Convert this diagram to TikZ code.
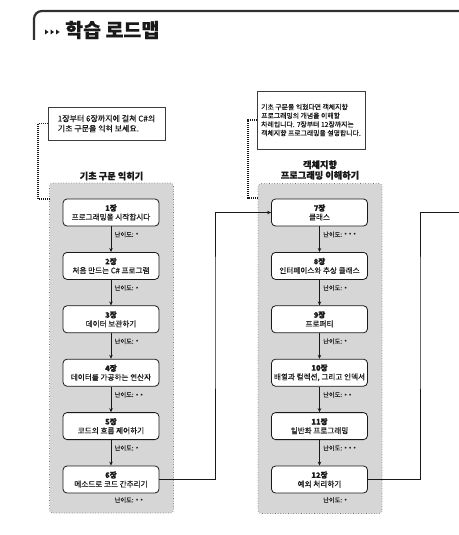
\documentclass[tikz,border=0pt]{standalone}
\usepackage{fontspec}
\setmainfont{Noto Sans CJK KR}[FakeBold=0.4]
\newfontfamily\symf{DejaVu Sans}
\usetikzlibrary{arrows.meta}
\definecolor{grpfill}{RGB}{214,214,214}
\definecolor{grpline}{RGB}{110,110,110}
\definecolor{inkc}{RGB}{25,25,25}
\newcommand{\dts}[1]{{\symf\foreach \i in {1,...,#1}{•\hspace{0.8pt}}}}
\tikzset{
  chap/.style={draw=inkc, line width=0.8pt, fill=white, rounded corners=4pt,
    minimum width=96pt, minimum height=27pt, inner sep=0pt, align=center,
    font=\fontsize{7.6}{9}\selectfont, text=inkc},
  grp/.style={draw=grpline, line width=0.6pt, dotted, fill=grpfill, rounded corners=3pt,
    minimum width=124pt, minimum height=330pt, inner sep=0pt},
  notebox/.style={draw=inkc!85, line width=0.6pt, fill=white, inner sep=0pt, align=left, text=inkc},
  diff/.style={anchor=west, font=\fontsize{6.2}{7}\selectfont, text=inkc, inner sep=0pt},
  flow/.style={draw=inkc, line width=0.8pt, -{Stealth[length=4pt,width=3.5pt]}},
  link/.style={draw=inkc, line width=0.8pt},
  dotlink/.style={draw=inkc, line width=1.1pt, dash pattern=on 1pt off 1pt},
  gtitle/.style={font=\bfseries\fontsize{9.2}{10.5}\selectfont, text=inkc, align=center, inner sep=0pt}
}
\begin{document}
\begin{tikzpicture}[x=1pt,y=-1pt]
\useasboundingbox (0,0) rectangle (458,535);
% header
\draw[line width=2.2pt, draw=inkc!90, rounded corners=8pt] (34,40) -- (34,11) -- (460,11);
\fill[inkc] (45,29.5) -- (48.5,32) -- (45,34.5) -- cycle;
\fill[inkc] (50.5,29.5) -- (54,32) -- (50.5,34.5) -- cycle;
\fill[inkc] (56,29.5) -- (59.5,32) -- (56,34.5) -- cycle;
\node[anchor=west, inner sep=0pt, text=inkc] (title) at (65,30) {\bfseries\fontsize{19.5}{21}\selectfont 학습 로드맵};

% groups
\node[grp] (gL) at (111.5,348) {};
\node[grp] (gR) at (320,348.5) {};
\node[gtitle] (tL) at (111.5,176) {기초 구문 익히기};
\node[gtitle] (tR) at (320,170) {객체지향\\프로그래밍 이해하기};

% notes
\node[notebox, minimum width=117pt, minimum height=33pt, font=\fontsize{8}{10}\selectfont] (noteL) at (106.5,123.5)
  {1장부터 6장까지에 걸쳐 C\#의\\기초 구문을 익혀 보세요.};
\node[notebox, minimum width=108pt, minimum height=58pt, font=\fontsize{6.85}{8.7}\selectfont] (noteR) at (311,120)
  {기초 구문을 익혔다면 객체지향\\프로그래밍의 개념을 이해할\\차례입니다. 7장부터 12장까지는\\객체지향 프로그래밍을 설명합니다.};
\coordinate (dLa) at (38,199);
\coordinate (dLb) at (50,199);
\coordinate (dRa) at (248,198);
\coordinate (dRb) at (258,198);
\draw[dotlink] (noteL.west) -| (dLa) -- (dLb);
\draw[dotlink] (noteR.west) -| (dRa) -- (dRb);

% left chapters
\node[chap] (c1) at (111,212.5) {\textbf{1장}\\프로그래밍을 시작합시다};
\node[chap] (c2) at (111,265.9) {\textbf{2장}\\처음 만드는 C\# 프로그램};
\node[chap] (c3) at (111,319.3) {\textbf{3장}\\데이터 보관하기};
\node[chap] (c4) at (111,372.7) {\textbf{4장}\\데이터를 가공하는 연산자};
\node[chap] (c5) at (111,426.1) {\textbf{5장}\\코드의 흐름 제어하기};
\node[chap] (c6) at (111,479.5) {\textbf{6장}\\메소드로 코드 간추리기};
% right chapters
\node[chap] (c7) at (319.5,212.5) {\textbf{7장}\\클래스};
\node[chap] (c8) at (319.5,265.9) {\textbf{8장}\\인터페이스와 추상 클래스};
\node[chap] (c9) at (319.5,319.3) {\textbf{9장}\\프로퍼티};
\node[chap] (c10) at (319.5,372.7) {\textbf{10장}\\배열과 컬렉션, 그리고 인덱서};
\node[chap] (c11) at (319.5,426.1) {\textbf{11장}\\일반화 프로그래밍};
\node[chap] (c12) at (319.5,479.5) {\textbf{12장}\\예외 처리하기};

% difficulty labels
\node[diff] (d1) at (114.5,234.5) {난이도: \dts{1}};
\node[diff] (d2) at (114.5,287.9) {난이도: \dts{1}};
\node[diff] (d3) at (114.5,341.3) {난이도: \dts{1}};
\node[diff] (d4) at (114.5,394.7) {난이도: \dts{2}};
\node[diff] (d5) at (114.5,448.1) {난이도: \dts{1}};
\node[diff] (d6) at (114.5,500) {난이도: \dts{2}};
\node[diff] (d7) at (323,234.5) {난이도: \dts{3}};
\node[diff] (d8) at (323,287.9) {난이도: \dts{1}};
\node[diff] (d9) at (323,341.3) {난이도: \dts{1}};
\node[diff] (d10) at (323,394.7) {난이도: \dts{2}};
\node[diff] (d11) at (323,448.1) {난이도: \dts{3}};
\node[diff] (d12) at (323,500) {난이도: \dts{1}};

% flows
\foreach \a/\b in {c1/c2,c2/c3,c3/c4,c4/c5,c5/c6,c7/c8,c8/c9,c9/c10,c10/c11,c11/c12}
  \draw[flow] (\a.south) -- (\b.north);
\coordinate (eL) at (215,300);
\draw[flow] (c6.east) -| (eL) |- (c7.west);
\coordinate (eR) at (420,300);
\coordinate (exitR) at (460,212.5);
\draw[link] (c12.east) -| (eR) |- (exitR);
\end{tikzpicture}
\end{document}
